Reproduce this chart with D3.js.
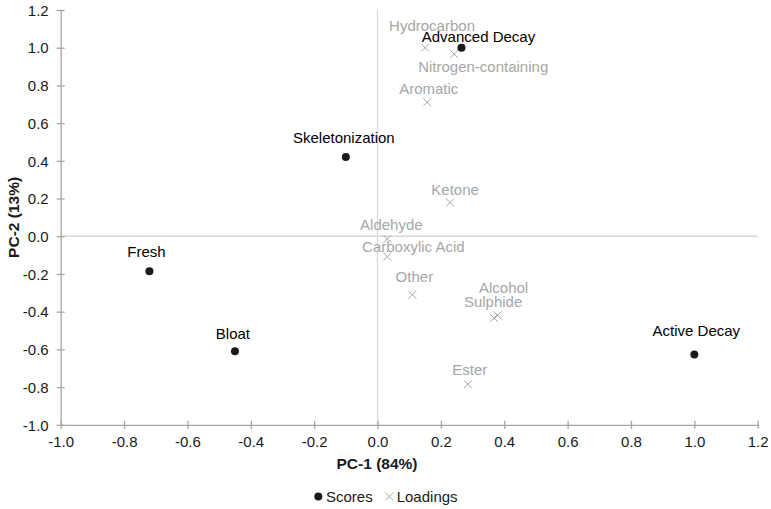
<!DOCTYPE html>
<html>
<head>
<meta charset="utf-8">
<script src="https://cdn.jsdelivr.net/npm/d3@7"></script>
<style>
  html, body { margin: 0; padding: 0; background: #fff; }
  svg { display: block; font-family: "Liberation Sans", Arial, sans-serif; }
</style>
</head>
<body>
<svg id="chart" width="771" height="509"></svg>
<script>
// ---- data ----
const scoreNames = ["Fresh", "Bloat", "Skeletonization", "Advanced Decay", "Active Decay"];
const scorePC1 = [-0.72, -0.45, -0.10, 0.265, 1.0];
const scorePC2 = [-0.185, -0.61, 0.42, 1.0, -0.627];

const loadingNames = ["Hydrocarbon", "Nitrogen-containing", "Aromatic", "Ketone", "Aldehyde",
  "Carboxylic Acid", "Other", "Alcohol", "Sulphide", "Ester"];
const loadingPC1 = [0.15, 0.242, 0.157, 0.229, 0.031, 0.031, 0.11, 0.379, 0.368, 0.285];
const loadingPC2 = [1.0, 0.966, 0.711, 0.179, -0.014, -0.108, -0.31, -0.42, -0.434, -0.785];

const xTicks = [-1.0, -0.8, -0.6, -0.4, -0.2, 0.0, 0.2, 0.4, 0.6, 0.8, 1.0, 1.2];
const yTicks = [-1.0, -0.8, -0.6, -0.4, -0.2, 0.0, 0.2, 0.4, 0.6, 0.8, 1.0, 1.2];

// label placement (pixel offsets of label baseline-centre from marker)
const scoreLabelOffsets = [[-3, -14], [-2, -12], [-2, -14], [17, -6], [2, -18]];
const loadingLabelOffsets = [[7, -16.5], [29, 17.5], [1.5, -8.3], [5, -7.7], [4, -9],
  [26, -5], [2, -12.7], [6, -22], [-1, -10.6], [2, -9.3]];

// ---- layout ----
const svg = d3.select("#chart");
const x = d3.scaleLinear().domain([-1.0, 1.2]).range([60.7, 757.7]);
const y = d3.scaleLinear().domain([-1.0, 1.2]).range([424.8, 10]);
const axisColor = "#a6a6a6";
const zeroColor = "#d9d9d9";
const fontSize = "15px";

// zero lines
svg.append("line").attr("x1", x(0)).attr("x2", x(0)).attr("y1", y(1.2)).attr("y2", y(-1.0))
  .attr("stroke", zeroColor).attr("stroke-width", 1.3);
svg.append("line").attr("x1", x(-1.0)).attr("x2", x(1.2)).attr("y1", y(0)).attr("y2", y(0))
  .attr("stroke", zeroColor).attr("stroke-width", 1.3);

// axes
const fmt = v => d3.format(".1f")(v).replace("\u2212", "-");
const xAxis = d3.axisBottom(x).tickValues(xTicks).tickFormat(fmt).tickSizeInner(4).tickSizeOuter(0);
const yAxis = d3.axisLeft(y).tickValues(yTicks).tickFormat(fmt).tickSizeInner(4).tickSizeOuter(0);

const gx = svg.append("g").attr("transform", `translate(0,${y(-1.0)})`).call(xAxis);
const gy = svg.append("g").attr("transform", `translate(${x(-1.0)},0)`).call(yAxis);

[gx, gy].forEach(g => {
  g.attr("font-size", null).attr("font-family", null);
  g.select(".domain").attr("stroke", axisColor).attr("stroke-width", 1.3);
  g.selectAll(".tick line").attr("stroke", axisColor).attr("stroke-width", 1.3);
  g.selectAll(".tick text").attr("fill", "#1a1a1a").style("font-size", fontSize);
});
// cross ticks
gx.selectAll(".tick line").attr("y1", -4).attr("y2", 4);
gy.selectAll(".tick line").attr("x1", -4).attr("x2", 4);
gx.selectAll(".tick text").attr("y", 12).attr("dy", "0.71em");
gy.selectAll(".tick text").attr("x", -12).attr("dy", "0.35em");

// axis titles
svg.append("text").attr("x", 377).attr("y", 469).attr("text-anchor", "middle")
  .style("font-size", "15.5px").style("font-weight", "bold").attr("fill", "#1a1a1a").text("PC-1 (84%)");
svg.append("text").attr("transform", `translate(19,${(y(1.2) + y(-1.0)) / 2}) rotate(-90)`)
  .attr("text-anchor", "middle").style("font-size", "15.5px").style("font-weight", "bold")
  .attr("fill", "#1a1a1a").text("PC-2 (13%)");

// loadings
const loadings = loadingNames.map((n, i) => ({ name: n, x: loadingPC1[i], y: loadingPC2[i], off: loadingLabelOffsets[i] }));
const lg = svg.append("g");
const cs = 4;
lg.selectAll("path.cross").data(loadings).join("path").attr("class", "cross")
  .attr("d", d => `M${x(d.x) - cs},${y(d.y) - cs}L${x(d.x) + cs},${y(d.y) + cs}M${x(d.x) - cs},${y(d.y) + cs}L${x(d.x) + cs},${y(d.y) - cs}`)
  .attr("stroke", "#a6a6a6").attr("stroke-width", 1).attr("fill", "none");
lg.selectAll("text").data(loadings).join("text")
  .attr("x", d => x(d.x) + d.off[0]).attr("y", d => y(d.y) + d.off[1])
  .attr("text-anchor", "middle").style("font-size", fontSize).attr("fill", "#a6a6a6").text(d => d.name);

// scores
const scores = scoreNames.map((n, i) => ({ name: n, x: scorePC1[i], y: scorePC2[i], off: scoreLabelOffsets[i] }));
const sg = svg.append("g");
sg.selectAll("circle").data(scores).join("circle")
  .attr("cx", d => x(d.x)).attr("cy", d => y(d.y)).attr("r", 4).attr("fill", "#1a1a1a");
sg.selectAll("text").data(scores).join("text")
  .attr("x", d => x(d.x) + d.off[0]).attr("y", d => y(d.y) + d.off[1])
  .attr("text-anchor", "middle").style("font-size", fontSize).attr("fill", "#000").text(d => d.name);

// legend
const leg = svg.append("g");
leg.append("circle").attr("cx", 318.3).attr("cy", 496.5).attr("r", 4).attr("fill", "#1a1a1a");
leg.append("text").attr("x", 326).attr("y", 501.5).style("font-size", fontSize).attr("fill", "#1a1a1a").text("Scores");
leg.append("path").attr("d", `M${389.3 - cs},${496.5 - cs}L${389.3 + cs},${496.5 + cs}M${389.3 - cs},${496.5 + cs}L${389.3 + cs},${496.5 - cs}`)
  .attr("stroke", "#a6a6a6").attr("stroke-width", 1).attr("fill", "none");
leg.append("text").attr("x", 396.7).attr("y", 501.5).style("font-size", fontSize).attr("fill", "#1a1a1a").text("Loadings");
</script>
</body>
</html>
